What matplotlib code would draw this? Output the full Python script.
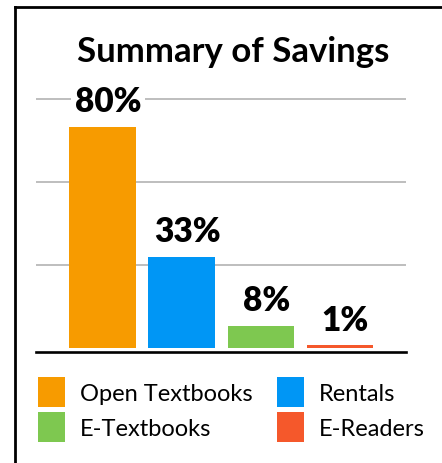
import matplotlib.pyplot as plt
from matplotlib.patches import Patch
from matplotlib.lines import Line2D

categories = ['Open Textbooks', 'Rentals', 'E-Textbooks', 'E-Readers']
savings = [80, 33, 8, 1]
labels = ['80%', '33%', '8%', '1%']
colors = ['#F79B00', '#0096F5', '#7EC850', '#F5582B']

W, H = 442, 464
fig = plt.figure(figsize=(W / 100, H / 100), dpi=100)
plt.rcParams['font.family'] = ['Lato', 'DejaVu Sans']

# axes placed in pixel terms
ax = fig.add_axes([36 / W, (H - 352.5) / H, 370 / W, (352.5 - 86) / H])
x = list(range(len(categories)))
bars = ax.bar(x, savings, width=0.84, color=colors, zorder=2)
ax.set_xlim(-0.84, 3.835)
ax.set_ylim(-1.35, 95.1)

for g in [30, 60, 90]:
    ax.axhline(g, color='#b3b3b3', lw=1.2, zorder=1)

for s in ['top', 'left', 'right']:
    ax.spines[s].set_visible(False)
ax.spines['bottom'].set_linewidth(1.9)
ax.spines['bottom'].set_color('black')
ax.set_xticks([])
ax.set_yticks([])

for xi, v, lab in zip(x, savings, labels):
    ax.annotate(lab, (xi, v), xytext=(4, 11), textcoords='offset points',
                ha='center', va='baseline', fontsize=24, fontweight='heavy',
                zorder=3, bbox=dict(facecolor='white', edgecolor='none', pad=3))

fig.text(233 / W, 1 - 62 / H, 'Summary of Savings', ha='center', va='baseline',
         fontsize=25, fontweight='bold')

# legend, column-major order
order = [0, 2, 1, 3]
handles = [Patch(facecolor=colors[i], edgecolor='none') for i in order]
names = [categories[i] for i in order]
fig.legend(handles, names, ncol=2, loc='upper left',
           bbox_to_anchor=(38 / W, 1 - 378 / H), frameon=False, fontsize=17,
           handlelength=1.144, handleheight=1.6, handletextpad=0.65,
           columnspacing=1.0, labelspacing=0.2, borderpad=0, borderaxespad=0)

# frame lines (top and left)
fig.add_artist(Line2D([14.5 / W, 1], [1 - 8 / H, 1 - 8 / H], color='black', lw=2))
fig.add_artist(Line2D([14.5 / W, 14.5 / W], [0, 1 - 8 / H], color='black', lw=2))

fig.savefig('out.png', dpi=100)
